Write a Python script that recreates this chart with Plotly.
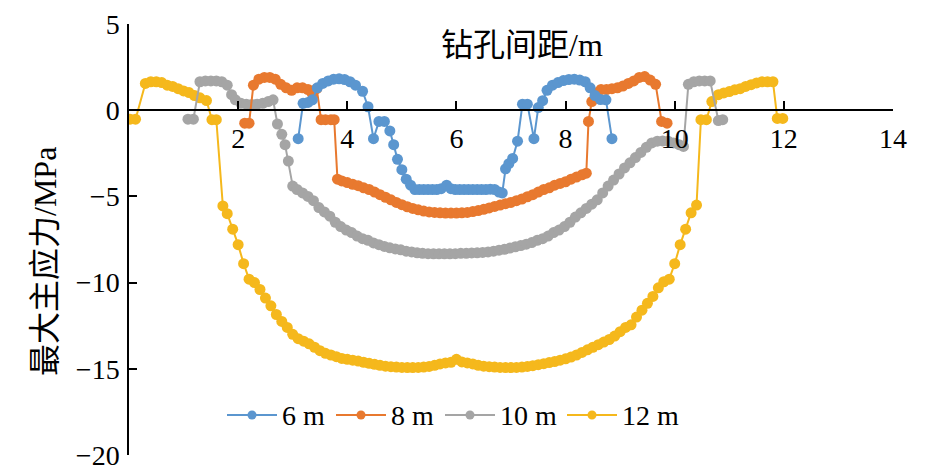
import plotly.graph_objects as go

# ---- data ----
x6 = [3.10, 3.19, 3.28, 3.36, 3.45, 3.55, 3.65, 3.75, 3.85, 3.95, 4.05, 4.15, 4.28, 4.38, 4.48,
      4.58, 4.68, 4.78, 4.85, 4.92, 5.00, 5.08, 5.16, 5.24, 5.32, 5.40, 5.48, 5.56, 5.64, 5.72,
      5.82, 5.90, 5.98, 6.06, 6.14, 6.22, 6.30, 6.38, 6.46, 6.54, 6.62, 6.70, 6.78, 6.84, 6.90,
      6.96, 7.03, 7.12, 7.21, 7.30, 7.42, 7.50, 7.58, 7.66, 7.76, 7.86, 7.96, 8.06, 8.16, 8.26,
      8.36, 8.45, 8.54, 8.64, 8.74, 8.85]
y6 = [-1.65, 0.40, 0.45, 0.60, 1.30, 1.55, 1.70, 1.80, 1.82, 1.78, 1.65, 1.45, 1.10, 0.20, -1.65,
      -0.65, -0.65, -1.20, -2.00, -2.85, -3.45, -4.00, -4.35, -4.60, -4.60, -4.60, -4.60, -4.60, -4.60, -4.55,
      -4.35, -4.55, -4.60, -4.60, -4.60, -4.60, -4.60, -4.60, -4.60, -4.60, -4.58, -4.60, -4.75, -4.80, -3.40,
      -3.10, -2.80, -1.80, 0.35, 0.35, -1.65, 0.15, 0.55, 1.15, 1.45, 1.60, 1.72, 1.78, 1.80, 1.75,
      1.65, 1.30, 0.85, 0.62, 0.60, -1.65]

x8 = [2.12, 2.20, 2.28, 2.38, 2.48, 2.58, 2.68, 2.78, 2.88, 2.98, 3.08, 3.18, 3.28, 3.36, 3.44,
      3.52, 3.60, 3.70, 3.76, 3.82, 3.90, 4.00, 4.10, 4.20, 4.30, 4.40, 4.50, 4.60, 4.70, 4.80,
      4.90, 5.00, 5.10, 5.20, 5.30, 5.40, 5.50, 5.60, 5.70, 5.80, 5.90, 6.00, 6.10, 6.20, 6.30,
      6.40, 6.50, 6.60, 6.70, 6.80, 6.90, 7.00, 7.10, 7.20, 7.30, 7.40, 7.50, 7.60, 7.70, 7.80,
      7.90, 8.00, 8.10, 8.20, 8.30, 8.38, 8.42, 8.48, 8.55, 8.65, 8.75, 8.85, 8.95, 9.05, 9.15,
      9.25, 9.35, 9.45, 9.55, 9.65, 9.76, 9.86]
y8 = [-0.75, -0.75, 1.45, 1.80, 1.90, 1.90, 1.80, 1.50, 1.30, 1.15, 1.30, 1.30, 1.20, 0.95, 1.25,
      -0.55, -0.55, -0.55, -0.55, -4.00, -4.10, -4.20, -4.30, -4.38, -4.50, -4.60, -4.75, -4.90, -5.05, -5.20,
      -5.35, -5.48, -5.60, -5.70, -5.78, -5.85, -5.90, -5.93, -5.95, -5.97, -5.97, -5.97, -5.95, -5.93, -5.88,
      -5.82, -5.75, -5.67, -5.58, -5.50, -5.42, -5.35, -5.25, -5.15, -5.02, -4.90, -4.75, -4.60, -4.50, -4.35,
      -4.25, -4.15, -4.00, -3.88, -3.75, -3.65, -0.65, 0.50, 1.00, 1.20, 1.20, 1.25, 1.30, 1.40, 1.55,
      1.70, 1.90, 1.95, 1.75, 1.50, -0.65, -0.75]

x10 = [1.08, 1.18, 1.30, 1.40, 1.50, 1.60, 1.70, 1.80, 1.88, 1.95, 2.05, 2.15, 2.25, 2.35, 2.45,
       2.55, 2.64, 2.72, 2.80, 2.86, 2.92, 3.00, 3.08, 3.18, 3.28, 3.38, 3.48, 3.58, 3.68, 3.78,
       3.88, 3.98, 4.08, 4.18, 4.28, 4.38, 4.48, 4.58, 4.68, 4.78, 4.88, 4.98, 5.08, 5.18, 5.28,
       5.38, 5.48, 5.58, 5.68, 5.78, 5.88, 5.98, 6.08, 6.18, 6.28, 6.38, 6.48, 6.58, 6.68, 6.78,
       6.88, 6.98, 7.08, 7.18, 7.28, 7.38, 7.48, 7.58, 7.68, 7.78, 7.88, 7.98, 8.08, 8.18, 8.28,
       8.38, 8.48, 8.58, 8.68, 8.78, 8.88, 8.98, 9.08, 9.18, 9.28, 9.38, 9.48, 9.58, 9.68, 9.78,
       9.88, 9.98, 10.08, 10.16, 10.25, 10.35, 10.45, 10.55, 10.65, 10.80, 10.88]
y10 = [-0.52, -0.52, 1.65, 1.70, 1.70, 1.70, 1.65, 1.45, 0.90, 0.60, 0.40, 0.35, 0.33, 0.35, 0.40,
       0.50, 0.60, -0.80, -1.40, -2.00, -2.95, -4.40, -4.60, -4.80, -5.00, -5.25, -5.65, -5.90, -6.15, -6.50,
       -6.75, -6.95, -7.10, -7.30, -7.45, -7.55, -7.70, -7.80, -7.90, -7.98, -8.05, -8.10, -8.18, -8.22, -8.27,
       -8.30, -8.32, -8.33, -8.33, -8.33, -8.33, -8.32, -8.30, -8.30, -8.28, -8.27, -8.25, -8.22, -8.18, -8.12,
       -8.07, -8.00, -7.92, -7.85, -7.77, -7.68, -7.55, -7.45, -7.30, -7.10, -6.95, -6.75, -6.50, -6.20, -5.95,
       -5.70, -5.45, -5.20, -4.80, -4.40, -4.05, -3.70, -3.35, -3.05, -2.75, -2.45, -2.15, -1.90, -1.80, -1.78,
       -1.80, -1.90, -2.00, -2.10, 1.50, 1.65, 1.70, 1.70, 1.70, -0.60, -0.55]

x12 = [0.02, 0.12, 0.30, 0.40, 0.50, 0.60, 0.70, 0.80, 0.90, 1.00, 1.10, 1.20, 1.30, 1.42, 1.52,
       1.60, 1.72, 1.80, 1.90, 2.00, 2.10, 2.20, 2.30, 2.40, 2.50, 2.60, 2.70, 2.80, 2.90, 3.00,
       3.10, 3.20, 3.30, 3.40, 3.50, 3.60, 3.70, 3.80, 3.90, 4.00, 4.10, 4.20, 4.30, 4.40, 4.50,
       4.60, 4.70, 4.80, 4.90, 5.00, 5.10, 5.20, 5.30, 5.40, 5.50, 5.60, 5.70, 5.80, 5.90, 6.00,
       6.10, 6.20, 6.30, 6.40, 6.50, 6.60, 6.70, 6.80, 6.90, 7.00, 7.10, 7.20, 7.30, 7.40, 7.50,
       7.60, 7.70, 7.80, 7.90, 8.00, 8.10, 8.20, 8.30, 8.40, 8.50, 8.60, 8.70, 8.80, 8.90, 9.00,
       9.10, 9.20, 9.30, 9.40, 9.50, 9.60, 9.70, 9.80, 9.90, 10.00, 10.10, 10.20, 10.30, 10.40, 10.48,
       10.58, 10.68, 10.80, 10.90, 11.00, 11.10, 11.20, 11.30, 11.40, 11.50, 11.60, 11.70, 11.80, 11.88, 11.98]
y12 = [-0.52, -0.52, 1.55, 1.65, 1.65, 1.60, 1.45, 1.38, 1.25, 1.12, 1.02, 0.85, 0.72, 0.56, -0.55,
       -0.55, -5.55, -6.00, -6.90, -7.80, -8.90, -9.80, -10.00, -10.40, -10.90, -11.35, -11.85, -12.25, -12.60, -13.00,
       -13.25, -13.40, -13.55, -13.75, -13.95, -14.10, -14.20, -14.30, -14.40, -14.45, -14.50, -14.55, -14.62, -14.68, -14.74,
       -14.80, -14.85, -14.88, -14.90, -14.92, -14.93, -14.93, -14.92, -14.90, -14.86, -14.80, -14.72, -14.66, -14.62, -14.45,
       -14.60, -14.66, -14.72, -14.80, -14.85, -14.88, -14.90, -14.92, -14.93, -14.93, -14.92, -14.90, -14.86, -14.82, -14.76,
       -14.70, -14.64, -14.58, -14.50, -14.42, -14.32, -14.20, -14.05, -13.90, -13.75, -13.60, -13.45, -13.30, -13.10, -12.85,
       -12.60, -12.45, -12.00, -11.60, -11.20, -10.80, -10.30, -9.95, -9.80, -8.90, -7.80, -6.90, -5.95, -5.50, -0.55,
       -0.55, 0.50, 0.90, 1.00, 1.08, 1.18, 1.25, 1.38, 1.48, 1.58, 1.65, 1.65, 1.65, -0.48, -0.48]

names = ["6 m", "8 m", "10 m", "12 m"]
colors = ["#5B96CF", "#E8792F", "#A5A5A5", "#F5B81C"]
x_ticks = [2, 4, 6, 8, 10, 12, 14]
y_ticks = [5, 0, -5, -10, -15, -20]

xs = [x6, x8, x10, x12]
ys = [y6, y8, y10, y12]

fig = go.Figure()
# draw 12 m first so that 6 m ends on top
for i in [3, 2, 1, 0]:
    fig.add_trace(go.Scatter(
        x=xs[i], y=ys[i], name=names[i], mode="lines+markers",
        line=dict(color=colors[i], width=2),
        marker=dict(color=colors[i], size=11),
        showlegend=False,
    ))

FONT = "Liberation Serif, Noto Sans CJK SC, serif"

# ---- custom legend (line + dot + label), in paper coordinates ----
PW, PH = 764.0, 431.0
leg_y = (455 - 415) / PH
leg_line_x0 = [227, 336, 445, 567]   # page px of legend line starts
shapes = []
annotations = []
for i in range(4):
    x0 = (leg_line_x0[i] - 129) / PW
    x1 = (leg_line_x0[i] + 50 - 129) / PW
    xm = (x0 + x1) / 2
    shapes.append(dict(type="line", xref="paper", yref="paper", x0=x0, x1=x1, y0=leg_y, y1=leg_y,
                       line=dict(color=colors[i], width=2)))
    r = 4.5
    shapes.append(dict(type="circle", xref="paper", yref="paper",
                       x0=xm - r / PW, x1=xm + r / PW, y0=leg_y - r / PH, y1=leg_y + r / PH,
                       fillcolor=colors[i], line=dict(color=colors[i], width=0)))
    annotations.append(dict(text=names[i], xref="paper", yref="paper", x=x1 + 3 / PW, y=leg_y,
                            xanchor="left", yanchor="middle", showarrow=False,
                            font=dict(family=FONT, size=28, color="black")))

annotations.append(dict(text="钻孔间距/m", xref="paper", yref="paper", x=0.514, y=0.951,
                        xanchor="center", yanchor="middle", showarrow=False,
                        font=dict(family=FONT, size=32, color="black")))
annotations.append(dict(text="最大主应力/MPa", xref="paper", yref="paper", x=-0.11, y=0.45,
                        xanchor="center", yanchor="middle", showarrow=False, textangle=-90,
                        font=dict(family=FONT, size=32, color="black")))

fig.update_layout(
    width=937, height=461,
    margin=dict(l=121, r=52, t=16, b=14, autoexpand=False),
    plot_bgcolor="white", paper_bgcolor="white",
    font=dict(family=FONT, size=28, color="black"),
    showlegend=False,
    xaxis=dict(range=[0, 14], tickvals=x_ticks, ticks="inside", ticklen=8, tickwidth=1.5,
               tickcolor="black", showline=True, linecolor="black", linewidth=1.5,
               showgrid=False, zeroline=False, anchor="free", position=0.8,
               automargin=False, ticklabeloverflow="allow",
               ticklabelstandoff=3, tickfont=dict(family=FONT, size=28)),
    yaxis=dict(range=[-20, 5], tickvals=y_ticks, ticks="inside", ticklen=8, tickwidth=1.5,
               tickcolor="black", showline=True, linecolor="black", linewidth=1.5,
               showgrid=False, zeroline=False, ticklabelstandoff=2,
               automargin=False, ticklabeloverflow="allow",
               tickfont=dict(family=FONT, size=28)),
    shapes=shapes,
    annotations=annotations,
)

fig.write_html("out.html")
